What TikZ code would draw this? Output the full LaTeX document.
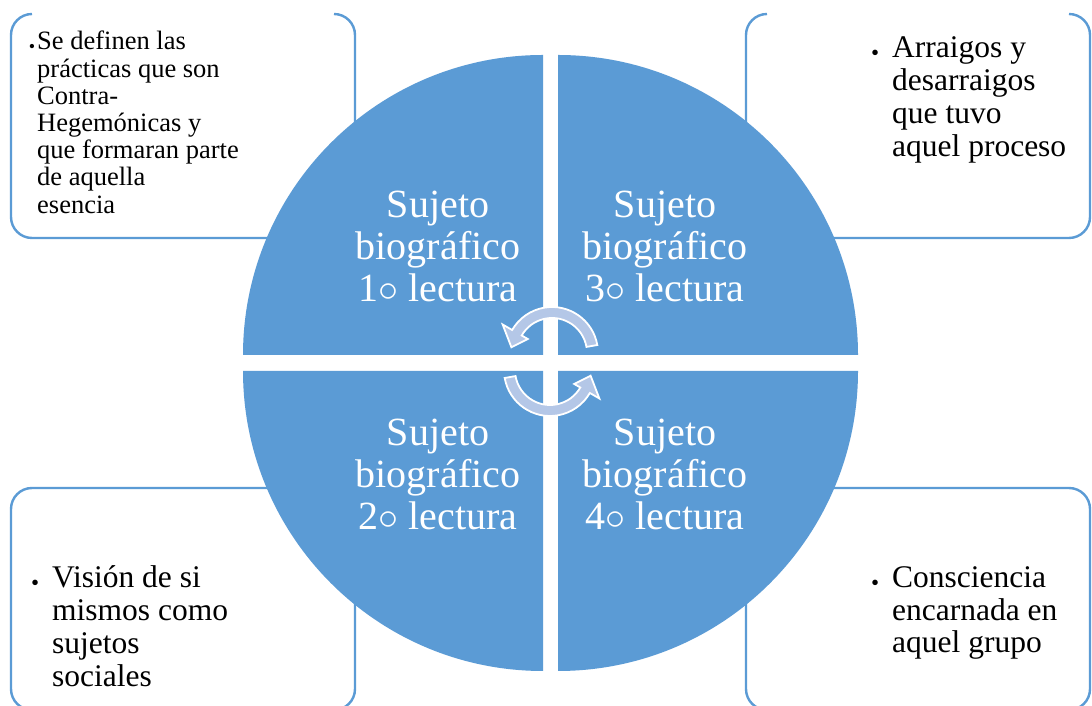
\RequirePackage{fix-cm}
\documentclass[tikz,border=0pt]{standalone}
\usepackage{fontspec}
\setmainfont{Liberation Serif}
\usepackage{tikz}
\definecolor{quadblue}{RGB}{91,155,213}
\definecolor{arrowblue}{RGB}{180,199,231}
\newcommand{\bulletgap}[3]{\leavevmode\llap{\raisebox{#2}{\fontsize{#1}{#1}\selectfont\textbullet}\hspace{#3}}}

\begin{document}
\begin{tikzpicture}[x=1pt,y=1pt,
  quad/.style={fill=quadblue},
  notebox/.style={draw=quadblue,line width=2.4pt},
  turnarrow/.style={fill=arrowblue,draw=white,line width=1.8pt,line join=miter},
  quadtext/.style={anchor=base,text=white,inner sep=0pt,font=\fontsize{40}{41.8}\selectfont},
  notetext/.style={anchor=base west,inner sep=0pt}]

  \fill[white] (0,0) rectangle (1092,706);
  \useasboundingbox (0,0) rectangle (1092,706);

  % boxes
  \draw[notebox] (32,692) arc[start angle=90,end angle=180,radius=21] -- (11,489)
    arc[start angle=180,end angle=270,radius=21] -- (334,468)
    arc[start angle=270,end angle=360,radius=21] -- (355,671)
    arc[start angle=0,end angle=90,radius=21];
  \draw[notebox] (767,692) arc[start angle=90,end angle=180,radius=21] -- (746,489)
    arc[start angle=180,end angle=270,radius=21] -- (1069,468)
    arc[start angle=270,end angle=360,radius=21] -- (1090,671)
    arc[start angle=0,end angle=90,radius=21];
  \draw[notebox] (32,-4) arc[start angle=270,end angle=180,radius=21] -- (11,197)
    arc[start angle=180,end angle=90,radius=21] -- (334,218)
    arc[start angle=90,end angle=0,radius=21] -- (355,17)
    arc[start angle=0,end angle=-90,radius=21];
  \draw[notebox] (767,-4) arc[start angle=270,end angle=180,radius=21] -- (746,197)
    arc[start angle=180,end angle=90,radius=21] -- (1069,218)
    arc[start angle=90,end angle=0,radius=21] -- (1090,17)
    arc[start angle=0,end angle=-90,radius=21];

  % quadrants
  \fill[quad] (543,351) -- (243,351) arc[start angle=180,end angle=90,radius=300] -- cycle;
  \fill[quad] (558,351) -- (558,651) arc[start angle=90,end angle=0,radius=300] -- cycle;
  \fill[quad] (543,335) -- (543,35) arc[start angle=270,end angle=180,radius=300] -- cycle;
  \fill[quad] (558,335) -- (858,335) arc[start angle=0,end angle=-90,radius=300] -- cycle;

  % arrows
  \begin{scope}[shift={(552,353)}]
    \filldraw[turnarrow] (10:46) arc[start angle=10,end angle=150,radius=46] -- (150:57)
      -- (172:41) -- (150:28) -- (150:35) arc[start angle=150,end angle=10,radius=35] -- cycle;
  \end{scope}
  \begin{scope}[shift={(550,336)},rotate=180]
    \filldraw[turnarrow] (10:46) arc[start angle=10,end angle=150,radius=46] -- (150:57)
      -- (172:41) -- (150:28) -- (150:35) arc[start angle=150,end angle=10,radius=35] -- cycle;
  \end{scope}

  \node[quadtext] (first) at (438,488) {\parbox[t]{220pt}{\centering Sujeto\\biográfico\\1$\circ$ lectura}};
  \node[quadtext] (third) at (665,488) {\parbox[t]{220pt}{\centering Sujeto\\biográfico\\3$\circ$ lectura}};
  \node[quadtext] (second) at (438,260) {\parbox[t]{220pt}{\centering Sujeto\\biográfico\\2$\circ$ lectura}};
  \node[quadtext] (fourth) at (665,260) {\parbox[t]{220pt}{\centering Sujeto\\biográfico\\4$\circ$ lectura}};

  \node[notetext] (practicas) at (37,656) {\parbox[t]{300pt}{\fontsize{26.5}{27.2}\selectfont\raggedright
    \bulletgap{18}{-2.5pt}{2pt}Se definen las\\prácticas que son\\Contra-\\Hegemónicas y\\que formaran parte\\de aquella\\esencia}};
  \node[notetext] (arraigos) at (892,648) {\parbox[t]{200pt}{\fontsize{31.5}{33}\selectfont\raggedright
    \bulletgap{23}{-3pt}{13pt}Arraigos y\\desarraigos\\que tuvo\\aquel proceso}};
  \node[notetext] (vision) at (52,118) {\parbox[t]{250pt}{\fontsize{31.5}{33}\selectfont\raggedright
    \bulletgap{23}{-3pt}{13pt}Visión de si\\mismos como\\sujetos\\sociales}};
  \node[notetext] (consciencia) at (892,118) {\parbox[t]{200pt}{\fontsize{31.5}{32.5}\selectfont\raggedright
    \bulletgap{23}{-3pt}{13pt}Consciencia\\encarnada en\\aquel grupo}};
\end{tikzpicture}
\end{document}
